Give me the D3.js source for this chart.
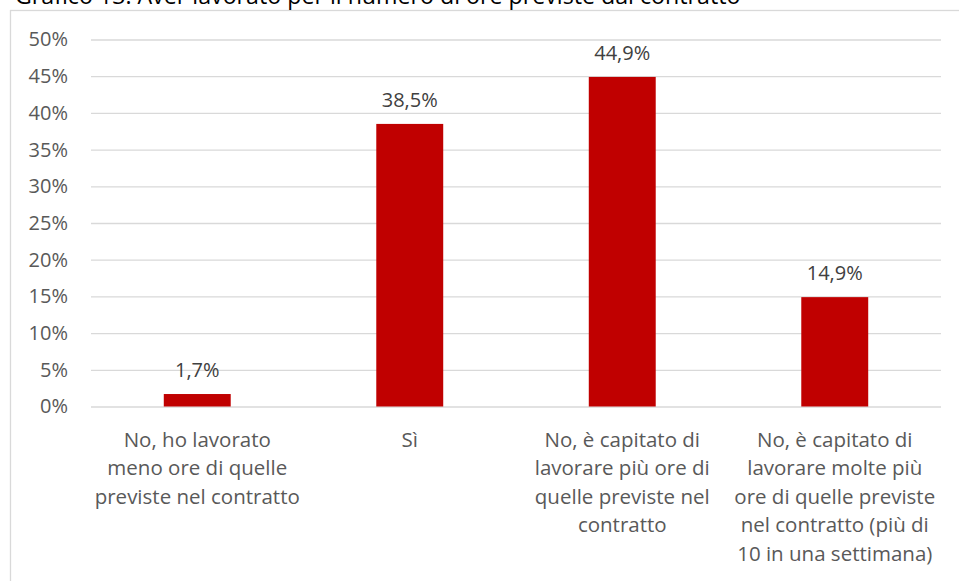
<!DOCTYPE html>
<html>
<head>
<meta charset="utf-8">
<script src="https://cdn.jsdelivr.net/npm/d3@7"></script>
<style>
  html, body { margin: 0; padding: 0; background: #fff; }
  svg { display: block; font-family: "Open Sans", sans-serif; }
</style>
</head>
<body>
<svg id="chart" width="959" height="581"></svg>
<script>
// Grafico 13 – aver lavorato per il numero di ore previste dal contratto
const title = "Grafico 13. Aver lavorato per il numero di ore previste dal contratto";
const categories = [
  "No, ho lavorato\nmeno ore di quelle\npreviste nel contratto",
  "Sì",
  "No, è capitato di\nlavorare più ore di\nquelle previste nel\ncontratto",
  "No, è capitato di\nlavorare molte più\nore di quelle previste\nnel contratto (più di\n10 in una settimana)"
];
const values = [1.7, 38.5, 44.9, 14.9];
const yTicks = [0, 5, 10, 15, 20, 25, 30, 35, 40, 45, 50];

const svg = d3.select("#chart");
const W = 959, H = 581;
const plot = { left: 91, right: 941, top: 39.5, bottom: 406.5 };

// outer chart frame (runs past the right and bottom edges)
svg.append("rect")
  .attr("x", 10.5).attr("y", 10.5)
  .attr("width", W + 20).attr("height", H + 20)
  .attr("fill", "#fff").attr("stroke", "#d9d9d9").attr("stroke-width", 1.3);

// title, sitting right at the top edge of the page
svg.append("text")
  .attr("x", 15).attr("y", 3.5)
  .attr("font-size", 23.2).attr("fill", "#000")
  .text(title);

const x = d3.scaleBand()
  .domain(categories)
  .range([plot.left, plot.right])
  .paddingInner(0.685)
  .paddingOuter(0.3425);

const y = d3.scaleLinear().domain([0, 50]).range([plot.bottom, plot.top]);

// horizontal gridlines and y tick labels
const yAxis = d3.axisLeft(y)
  .tickValues(yTicks)
  .tickSize(-(plot.right - plot.left))
  .tickPadding(23)
  .tickFormat(d => d + "%");

const gy = svg.append("g")
  .attr("transform", `translate(${plot.left},0)`)
  .call(yAxis);
gy.select(".domain").remove();
gy.selectAll(".tick line").attr("stroke", "#d9d9d9").attr("stroke-width", 1.3);
gy.selectAll(".tick text")
  .attr("fill", "#595959").attr("font-size", 20)
  .attr("font-family", "Open Sans, sans-serif");

// bars
svg.append("g").selectAll("rect")
  .data(values)
  .join("rect")
  .attr("x", (d, i) => x(categories[i]))
  .attr("y", d => y(d))
  .attr("width", x.bandwidth())
  .attr("height", d => y(0) - y(d))
  .attr("fill", "#c00000");

// value labels
const fmt = d => d.toFixed(1).replace(".", ",") + "%";
svg.append("g").selectAll("text")
  .data(values)
  .join("text")
  .attr("x", (d, i) => x(categories[i]) + x.bandwidth() / 2)
  .attr("y", d => y(d) - 17)
  .attr("text-anchor", "middle")
  .attr("font-size", 20)
  .attr("fill", "#404040")
  .text(fmt);

// category labels, one line per tspan
const gx = svg.append("g");
categories.forEach(c => {
  const t = gx.append("text")
    .attr("x", x(c) + x.bandwidth() / 2)
    .attr("y", 446.5)
    .attr("text-anchor", "middle")
    .attr("font-size", 20.5)
    .attr("fill", "#595959");
  c.split("\n").forEach((line, k) => {
    t.append("tspan")
      .attr("x", x(c) + x.bandwidth() / 2)
      .attr("dy", k === 0 ? 0 : 28.5)
      .text(line);
  });
});
</script>
</body>
</html>
